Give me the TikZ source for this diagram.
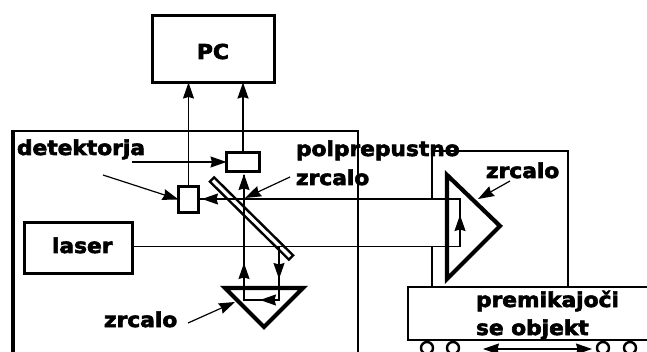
\documentclass[tikz,border=0pt]{standalone}
\usepackage{fontspec}
\newfontfamily\labelfont[FakeStretch=1.06,FakeBold=3]{DejaVu Sans Bold}
\usetikzlibrary{arrows.meta,positioning,calc}
\tikzset{
  box/.style={draw,line width=3pt,outer sep=0pt,inner sep=0pt},
  beam/.style={line width=1.2pt},
  frame/.style={line width=1.4pt},
  prism/.style={line width=4.2pt,line join=miter},
  lbl/.style={anchor=base west,inner sep=0pt,outer sep=0pt,font=\labelfont\fontsize{20.5}{24}\selectfont},
  wheel/.style={circle,draw,line width=2.4pt,minimum size=12pt,inner sep=0pt},
}
\begin{document}
\begin{tikzpicture}[>={Stealth[length=16pt,width=11pt,inset=1.5pt]},x=1pt,y=-1pt]
\clip (0,0) rectangle (647,352);
% frames
\draw[line width=4pt] (13,352)--(13,130);
\draw[frame] (11,131)--(358,131)--(358,352);
\draw[frame] (432,199)--(432,151)--(568,151)--(568,286);
\draw[frame] (432,246)--(432,286);
% boxes
\node[box,minimum width=122pt,minimum height=67pt] (pc) at (213.5,49) {};
\node[box,minimum width=33pt,minimum height=19pt] (det1) at (243,162) {};
\node[box,minimum width=20pt,minimum height=26pt] (det2) at (188.5,199.5) {};
\node[box,minimum width=108pt,minimum height=51pt] (laser) at (78.5,248) {};
% object on wheels
\draw[line width=2.6pt] (660,287)--(408,287)--(408,340)--(660,340);
\foreach \name/\xx in {w1/427,w2/453,w3/603,w4/630}
  \node[wheel] (\name) at (\xx,348) {};
% prisms
\draw[prism] (225,288)--(303,288)--(264,327)--cycle;
\draw[prism] (447,175)--(500,226)--(447,279)--cycle;
% beam points
\coordinate (a) at (460,246.5);
\coordinate (b) at (460,199);
\coordinate (c) at (279,247);
\coordinate (d) at (279,300);
\coordinate (e) at (244,300);
% beams
\draw[beam] (laser.east |- a)--(a)--(b)--(det2.east |- b);
\draw[beam,->] (a)--(460,215);
\draw[beam,->] (b)--(202,199);
\draw[beam] (c)--(d)--(e)--(244,175);
\draw[beam,->] (c)--(279,279);
\draw[beam,->] (d)--(260,300);
\draw[beam,->] (e)--(244,263);
\draw[beam,->] (244,210)--(244,174);
\draw[beam,->] (det2.north)--(det2.north |- pc.south);
\draw[line width=1.8pt,->] (det1.north)--(det1.north |- pc.south);
\node[draw,line width=2.4pt,minimum width=111pt,minimum height=6pt,inner sep=0pt,rotate=-44.6] (mirror) at (251.5,218.5) {};
% labels
\node[lbl] (pctxt) at (197,59) {PC};
\node[lbl] (lasertxt) at (52,253) {laser};
\node[lbl] (dettxt) at (17,155) {detektorja};
\node[lbl] (poltxt) at (296,156) {polprepustno};
\node[lbl] (zr1) at (296,185) {zrcalo};
\node[lbl] (zr2) at (486,178) {zrcalo};
\node[lbl] (zr3) at (104,327) {zrcalo};
\node[lbl] (objtxt) at (476,307) {premikajoči};
\node[lbl] (objtxt2) at (476,335) {se objekt};
% pointers
\draw[beam,->] (132,162)--(det1.west);
\draw[beam,->] (103,175)--(det2.west);
\draw[beam,->] (290,177)--(245,198);
\draw[beam,->] (510,181)--(478,199);
\draw[beam,->] (188,323)--(235,302);
\draw[beam,<->] (483,349)--(592,349);
\end{tikzpicture}
\end{document}
